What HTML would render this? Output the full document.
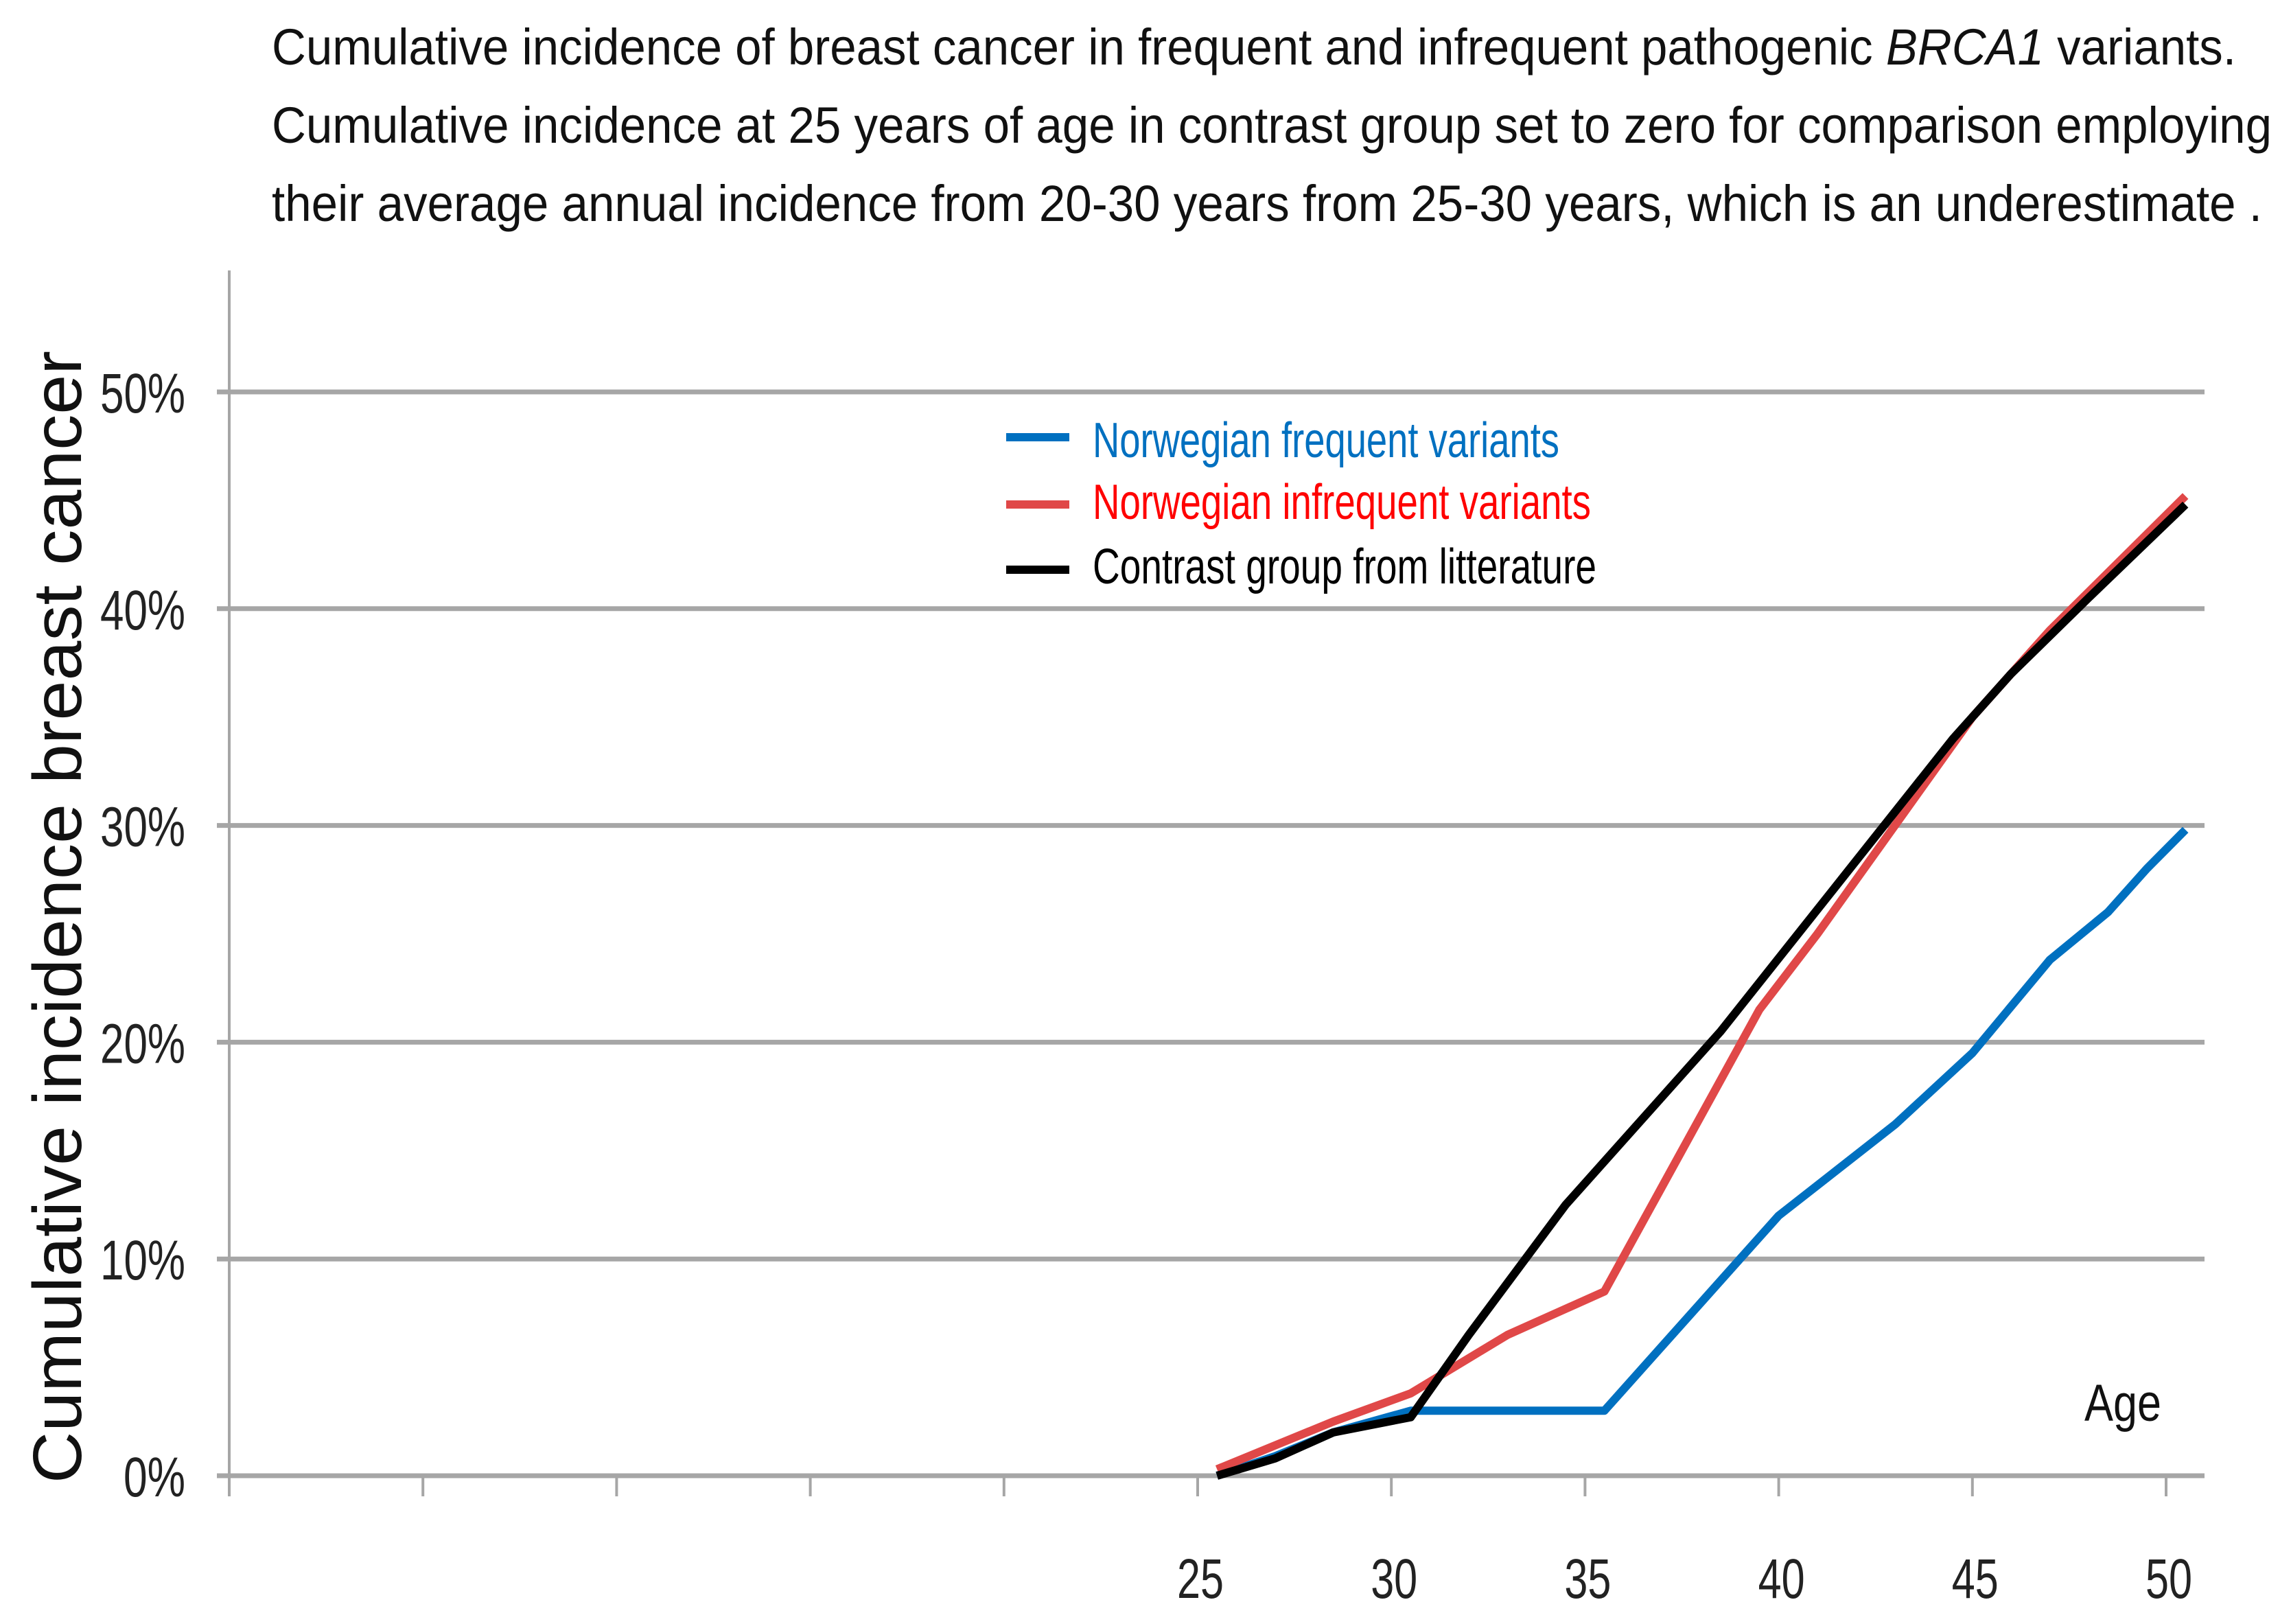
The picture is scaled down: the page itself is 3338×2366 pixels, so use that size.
<!DOCTYPE html>
<html><head><meta charset="utf-8"><style>
html,body{margin:0;padding:0;background:#fff}
svg{display:block}
text{font-family:"Liberation Sans Narrow","Liberation Sans",sans-serif}
</style></head><body>
<svg id="chart" width="3338" height="2366" viewBox="0 0 3338 2366" xmlns="http://www.w3.org/2000/svg">
<g font-size="74" fill="#111">
<text x="396" y="94" textLength="2862" lengthAdjust="spacingAndGlyphs">Cumulative incidence of breast cancer in frequent and infrequent pathogenic <tspan font-style="italic">BRCA1</tspan> variants.</text>
<text x="396" y="208" textLength="2914" lengthAdjust="spacingAndGlyphs">Cumulative incidence at 25 years of age in contrast group set to zero for comparison employing</text>
<text x="396" y="322" textLength="2900" lengthAdjust="spacingAndGlyphs">their average annual incidence from 20-30 years from 25-30 years, which is an underestimate .</text>
</g>
<g id="grid"></g>
<g id="axes"></g>
<g id="series"></g>
<text transform="translate(118,1336) rotate(-90)" text-anchor="middle" font-size="100" fill="#111" textLength="1650" lengthAdjust="spacingAndGlyphs" style="font-family:'Liberation Sans',sans-serif">Cumulative incidence breast cancer</text>
<text x="3093" y="2070" text-anchor="middle" font-size="76" fill="#111" textLength="112" lengthAdjust="spacingAndGlyphs">Age</text>
<g>
<line x1="1466" y1="637" x2="1558" y2="637" stroke="#0070c0" stroke-width="12"/>
<text x="1592" y="666" font-size="72" fill="#0070c0" textLength="680" lengthAdjust="spacingAndGlyphs">Norwegian frequent variants</text>
<line x1="1466" y1="735" x2="1558" y2="735" stroke="#e04848" stroke-width="12"/>
<text x="1592" y="756" font-size="72" fill="#ff0000" textLength="726" lengthAdjust="spacingAndGlyphs">Norwegian infrequent variants</text>
<line x1="1466" y1="830" x2="1558" y2="830" stroke="#000" stroke-width="12"/>
<text x="1592" y="850" font-size="72" fill="#000" textLength="734" lengthAdjust="spacingAndGlyphs">Contrast group from litterature</text>
</g>
</svg>
<script>
const yTicks = [0, 10, 20, 30, 40, 50];
const yTickLabels = ["0%", "10%", "20%", "30%", "40%", "50%"];
const xTicks = [0, 5, 10, 15, 20, 25, 30, 35, 40, 45, 50];
const xTickLabels = ["", "", "", "", "", "25", "30", "35", "40", "45", "50"];
const frequentAges = [25.5, 27, 28.5, 30.5, 35.5, 38, 40, 43, 45, 47, 48.5, 49.5, 50.5];
const frequentValues = [0, 0.9, 2.0, 3.0, 3.0, 8, 12, 16.2, 19.5, 23.8, 26, 28, 29.8];
const infrequentAges = [25.5, 28.5, 30.5, 33, 35.5, 37.5, 39.5, 41, 43, 45, 47, 50.5];
const infrequentValues = [0.3, 2.5, 3.8, 6.5, 8.5, 15, 21.5, 25, 30, 35, 39, 45.2];
const contrastAges = [25.5, 27, 28.5, 30.5, 32, 34.5, 36, 37.5, 38.5, 40.5, 42.5, 44.5, 46, 48, 50.5];
const contrastValues = [0, 0.8, 2.0, 2.7, 6.5, 12.5, 15.5, 18.5, 20.5, 25, 29.5, 34, 37, 40.5, 44.8];

const NS = "http://www.w3.org/2000/svg";
const X0 = 334, PXPERYEAR = 56.44, Y0 = 2150, PXPERPCT = 31.58;
function xScale(a){ return X0 + a * PXPERYEAR; }
function yScale(v){ return Y0 - v * PXPERPCT; }
function mk(tag, attrs, parent){
  const e = document.createElementNS(NS, tag);
  for (const k in attrs) e.setAttribute(k, attrs[k]);
  parent.appendChild(e); return e;
}
const grid = document.getElementById('grid');
const axes = document.getElementById('axes');
const series = document.getElementById('series');

yTicks.forEach((v, i) => {
  const ln = mk('line', {x1: 316, x2: 3212, y1: yScale(v), y2: yScale(v), stroke: '#a6a6a6', 'stroke-width': 7}, grid);
  
  
  const t = mk('text', {x: 270, y: yScale(v) + 30, 'text-anchor': 'end', 'font-size': 82, fill: '#222'}, axes);
  
  
  t.setAttribute('textLength', yTickLabels[i].length > 2 ? 124 : 90);
  t.setAttribute('lengthAdjust', 'spacingAndGlyphs');
  t.textContent = yTickLabels[i];
});
const yAxis = mk('line', {x1: 334, x2: 334, y1: 394, y2: 2150, stroke: '#a6a6a6', 'stroke-width': 4}, axes);


xTicks.forEach((a, i) => {
  const tk = mk('line', {x1: xScale(a), x2: xScale(a), y1: 2150, y2: 2180, stroke: '#a6a6a6', 'stroke-width': 4}, axes);
  
  
  if (xTickLabels[i]) {
    const t = mk('text', {x: xScale(a) + 4, y: 2328, 'text-anchor': 'middle', 'font-size': 82, fill: '#222', textLength: 68, lengthAdjust: 'spacingAndGlyphs'}, axes);
    
    
    t.textContent = xTickLabels[i];
  }
});
function drawLine(ages, vals, color, name){
  const pts = ages.map((a, i) => xScale(a) + ',' + yScale(vals[i])).join(' ');
  const p = mk('polyline', {points: pts, fill: 'none', stroke: color, 'stroke-width': 12, 'stroke-linejoin': 'round'}, series);
  
  
}
drawLine(frequentAges, frequentValues, '#0070c0', 'frequent-variants-line');
drawLine(infrequentAges, infrequentValues, '#e04848', 'infrequent-variants-line');
drawLine(contrastAges, contrastValues, '#000000', 'contrast-group-line');
</script>
</body></html>
